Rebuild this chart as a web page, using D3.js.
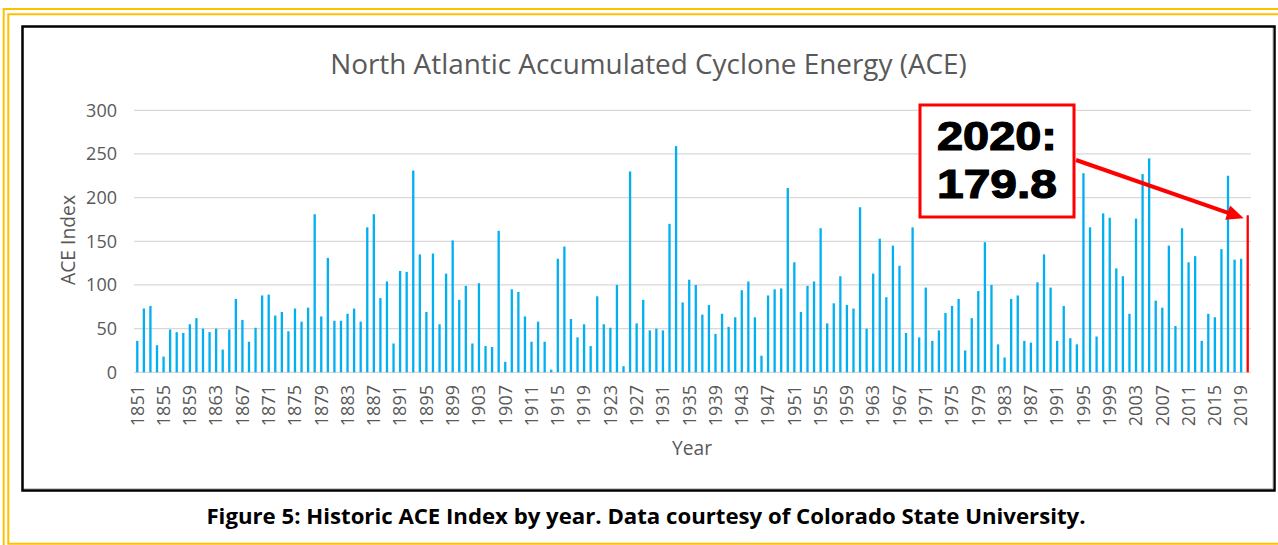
<!DOCTYPE html>
<html>
<head>
<meta charset="utf-8">
<script src="https://cdn.jsdelivr.net/npm/d3@7"></script>
<style>
    body { margin: 0; background: #ffffff; }
    svg { display: block; }
</style>
</head>
<body>
<script>
//chart data (ACE index per year)
var years = [
    1851, 1852, 1853, 1854, 1855, 1856, 1857, 1858, 1859, 1860,
    1861, 1862, 1863, 1864, 1865, 1866, 1867, 1868, 1869, 1870,
    1871, 1872, 1873, 1874, 1875, 1876, 1877, 1878, 1879, 1880,
    1881, 1882, 1883, 1884, 1885, 1886, 1887, 1888, 1889, 1890,
    1891, 1892, 1893, 1894, 1895, 1896, 1897, 1898, 1899, 1900,
    1901, 1902, 1903, 1904, 1905, 1906, 1907, 1908, 1909, 1910,
    1911, 1912, 1913, 1914, 1915, 1916, 1917, 1918, 1919, 1920,
    1921, 1922, 1923, 1924, 1925, 1926, 1927, 1928, 1929, 1930,
    1931, 1932, 1933, 1934, 1935, 1936, 1937, 1938, 1939, 1940,
    1941, 1942, 1943, 1944, 1945, 1946, 1947, 1948, 1949, 1950,
    1951, 1952, 1953, 1954, 1955, 1956, 1957, 1958, 1959, 1960,
    1961, 1962, 1963, 1964, 1965, 1966, 1967, 1968, 1969, 1970,
    1971, 1972, 1973, 1974, 1975, 1976, 1977, 1978, 1979, 1980,
    1981, 1982, 1983, 1984, 1985, 1986, 1987, 1988, 1989, 1990,
    1991, 1992, 1993, 1994, 1995, 1996, 1997, 1998, 1999, 2000,
    2001, 2002, 2003, 2004, 2005, 2006, 2007, 2008, 2009, 2010,
    2011, 2012, 2013, 2014, 2015, 2016, 2017, 2018, 2019, 2020
];
var aceValues = [
    36, 73, 76, 31, 18, 49, 46, 45, 55, 62,
    50, 46, 50, 26, 49, 84, 60, 35, 51, 88,
    89, 65, 69, 47, 73, 58, 74, 181, 64, 131,
    59, 59, 67, 73, 58, 166, 181, 85, 104, 33,
    116, 115, 231, 135, 69, 136, 55, 113, 151, 83,
    99, 33, 102, 30, 29, 162, 12, 95, 92, 64,
    35, 58, 35, 3, 130, 144, 61, 40, 55, 30,
    87, 55, 51, 100, 7, 230, 56, 83, 48, 50,
    48, 170, 259, 80, 106, 100, 66, 77, 44, 67,
    52, 63, 94, 104, 63, 19, 88, 95, 96, 211,
    126, 69, 99, 104, 165, 56, 79, 110, 77, 73,
    189, 50, 113, 153, 86, 145, 122, 45, 166, 40,
    97, 36, 48, 68, 76, 84, 25, 62, 93, 149,
    100, 32, 17, 84, 88, 36, 34, 103, 135, 97,
    36, 76, 39, 32, 228, 166, 41, 182, 177, 119,
    110, 67, 176, 227, 245, 82, 74, 145, 53, 165,
    126, 133, 36, 67, 63, 141, 225, 129, 130, 179.8
];
var xTickYears = [1851, 1855, 1859, 1863, 1867, 1871, 1875, 1879, 1883, 1887,
    1891, 1895, 1899, 1903, 1907, 1911, 1915, 1919, 1923, 1927, 1931, 1935,
    1939, 1943, 1947, 1951, 1955, 1959, 1963, 1967, 1971, 1975, 1979, 1983,
    1987, 1991, 1995, 1999, 2003, 2007, 2011, 2015, 2019];
var yTicks = [0, 50, 100, 150, 200, 250, 300];
var highlightYear = 2020;
var calloutLines = ["2020:", "179.8"];
var chartTitle = "North Atlantic Accumulated Cyclone Energy (ACE)";
var yTitle = "ACE Index";
var xTitle = "Year";
var caption = "Figure 5: Historic ACE Index by year. Data courtesy of Colorado State University.";

(function(){

    var width = 1278,
        height = 545;

    var gold = "#FFC000",
        barBlue = "#00B0F0",
        textGray = "#595959",
        gridGray = "#D9D9D9";

    //wait for the local fonts so text measuring works
    document.fonts.ready.then(setChart);

    //scale a text element so it spans the given width
    function fitWidth(sel, w){
        var len = sel.node().getComputedTextLength();
        var fs = parseFloat(sel.attr("font-size"));
        sel.attr("font-size", fs * w / len);
    };

    function setChart(){

        var svg = d3.select("body")
            .append("svg")
            .attr("width", width)
            .attr("height", height);

        //double gold frame, cropped at right and bottom like the picture
        svg.append("path")
            .attr("d", "M3.7," + height + "V9H" + width)
            .attr("fill", "none")
            .attr("stroke", gold)
            .attr("stroke-width", 2);
        svg.append("path")
            .attr("d", "M" + width + ",14.3H8.3V543.7H" + width)
            .attr("fill", "none")
            .attr("stroke", gold)
            .attr("stroke-width", 2);

        //black chart box with thin grey shadow inside
        svg.append("rect")
            .attr("x", 22.5)
            .attr("y", 26.5)
            .attr("width", 1252)
            .attr("height", 464)
            .attr("fill", "#ffffff")
            .attr("stroke", "#000000")
            .attr("stroke-width", 2.5);
        svg.append("path")
            .attr("d", "M1272.8,28V488.5H24")
            .attr("fill", "none")
            .attr("stroke", "#C8C8C8")
            .attr("stroke-width", 1);

        //scales
        var x = d3.scaleBand()
            .domain(years)
            .range([134, 1251])
            .paddingInner(0.65)
            .paddingOuter(0.325);

        var y = d3.scaleLinear()
            .domain([0, 300])
            .range([372.3, 110.3]);

        //gridlines
        svg.selectAll(".gridLine")
            .data(yTicks)
            .enter()
            .append("line")
            .attr("class", "gridLine")
            .attr("x1", 134)
            .attr("x2", 1251)
            .attr("y1", function(d){ return y(d); })
            .attr("y2", function(d){ return y(d); })
            .attr("stroke", gridGray)
            .attr("stroke-width", 1.3);

        //y axis labels
        var yAxis = svg.append("g")
            .attr("transform", "translate(117,0)")
            .call(d3.axisLeft(y).tickValues(yTicks).tickSize(0).tickPadding(0));
        yAxis.select(".domain").remove();
        yAxis.selectAll("text")
            .attr("font-family", "'Open Sans', sans-serif")
            .attr("font-size", 18)
            .attr("fill", textGray);

        //x axis labels, rotated
        var xAxis = svg.append("g")
            .attr("transform", "translate(0,385)")
            .call(d3.axisBottom(x).tickValues(xTickYears).tickSize(0).tickPadding(0));
        xAxis.select(".domain").remove();
        xAxis.selectAll("text")
            .attr("font-family", "'Open Sans', sans-serif")
            .attr("font-size", 18)
            .attr("fill", textGray)
            .attr("text-anchor", "end")
            .attr("dy", null)
            .attr("y", 0)
            .attr("transform", "translate(6.3,0) rotate(-90)");

        //bars
        svg.selectAll(".bar")
            .data(years)
            .enter()
            .append("rect")
            .attr("class", "bar")
            .attr("x", function(d){ return x(d); })
            .attr("width", x.bandwidth())
            .attr("y", function(d, i){ return y(aceValues[i]); })
            .attr("height", function(d, i){ return y(0) - y(aceValues[i]); })
            .attr("fill", function(d){ return d == highlightYear ? "#FF0000" : barBlue; });

        //titles
        var title = svg.append("text")
            .attr("x", 648.5)
            .attr("y", 74)
            .attr("text-anchor", "middle")
            .attr("font-family", "'Open Sans', sans-serif")
            .attr("font-size", 26)
            .attr("fill", textGray)
            .text(chartTitle);
        fitWidth(title, 637);

        var yLab = svg.append("text")
            .attr("transform", "translate(75,240) rotate(-90)")
            .attr("text-anchor", "middle")
            .attr("font-family", "'Open Sans', sans-serif")
            .attr("font-size", 18)
            .attr("fill", textGray)
            .text(yTitle);
        fitWidth(yLab, 90);

        var xLab = svg.append("text")
            .attr("x", 692)
            .attr("y", 455)
            .attr("text-anchor", "middle")
            .attr("font-family", "'Open Sans', sans-serif")
            .attr("font-size", 18)
            .attr("fill", textGray)
            .text(xTitle);
        fitWidth(xLab, 40);

        //figure caption under the box
        var cap = svg.append("text")
            .attr("x", 646)
            .attr("y", 524)
            .attr("text-anchor", "middle")
            .attr("font-family", "'Open Sans', sans-serif")
            .attr("font-weight", "bold")
            .attr("font-size", 18)
            .attr("fill", "#000000")
            .text(caption);
        fitWidth(cap, 880);

        //callout arrow from box to the 2020 bar
        var tipX = x(highlightYear) + x.bandwidth() / 2 - 4,
            tipY = y(aceValues[aceValues.length - 1]) + 3,
            startX = 1076,
            startY = 160;
        var ang = Math.atan2(tipY - startY, tipX - startX),
            headLen = 17,
            headHalf = 7.5;
        var baseX = tipX - headLen * Math.cos(ang),
            baseY = tipY - headLen * Math.sin(ang);
        svg.append("line")
            .attr("x1", startX)
            .attr("y1", startY)
            .attr("x2", baseX + 2 * Math.cos(ang))
            .attr("y2", baseY + 2 * Math.sin(ang))
            .attr("stroke", "#FF0000")
            .attr("stroke-width", 4);
        svg.append("polygon")
            .attr("points", [
                [tipX, tipY],
                [baseX + headHalf * Math.sin(ang), baseY - headHalf * Math.cos(ang)],
                [baseX - headHalf * Math.sin(ang), baseY + headHalf * Math.cos(ang)]
            ].join(" "))
            .attr("fill", "#FF0000");

        //callout box
        svg.append("rect")
            .attr("x", 920)
            .attr("y", 105)
            .attr("width", 154)
            .attr("height", 112)
            .attr("fill", "#ffffff")
            .attr("stroke", "#FF0000")
            .attr("stroke-width", 3);

        svg.selectAll(".callout")
            .data(calloutLines)
            .enter()
            .append("text")
            .attr("class", "callout")
            .attr("x", 997)
            .attr("y", function(d, i){ return 150 + i * 48; })
            .attr("text-anchor", "middle")
            .attr("font-family", "'Liberation Sans', Arial, sans-serif")
            .attr("font-weight", "bold")
            .attr("font-size", 40)
            .attr("textLength", 120)
            .attr("lengthAdjust", "spacingAndGlyphs")
            .attr("fill", "#000000")
            .attr("stroke", "#000000")
            .attr("stroke-width", 1.2)
            .text(function(d){ return d; });
    };

})();
</script>
</body>
</html>
